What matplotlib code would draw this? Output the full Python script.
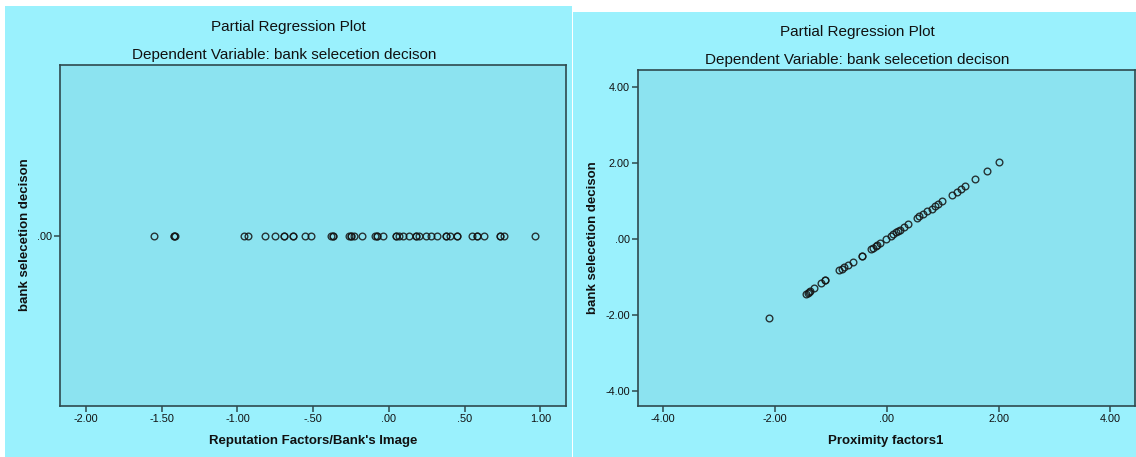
import matplotlib
matplotlib.use("Agg")
import matplotlib.pyplot as plt
from matplotlib.patches import Rectangle

# ---------------- data ----------------
title_text = "Partial Regression Plot"
subtitle_text = "Dependent Variable: bank selecetion decison"
ylabel_text = "bank selecetion decison"

left_xlabel = "Reputation Factors/Bank's Image"
left_x = [-1.55, -1.418, -1.418, -1.41, -0.954, -0.929, -0.819, -0.755, -0.691, -0.691,
          -0.630, -0.630, -0.557, -0.513, -0.381, -0.366, -0.366, -0.266, -0.250, -0.250,
          -0.233, -0.176, -0.091, -0.075, -0.075, -0.039, 0.047, 0.047, 0.064, 0.093,
          0.133, 0.179, 0.179, 0.196, 0.243, 0.280, 0.318, 0.375, 0.375, 0.404,
          0.450, 0.450, 0.547, 0.582, 0.582, 0.626, 0.736, 0.736, 0.758, 0.968]
left_y = [0.0] * len(left_x)
left_xticks = [-2.0, -1.5, -1.0, -0.5, 0.0, 0.5, 1.0]
left_xticklabels = ["-2.00", "-1.50", "-1.00", "-.50", ".00", ".50", "1.00"]
left_yticks = [0.0]
left_yticklabels = [".00"]

right_xlabel = "Proximity factors1"
right_x = [-2.10, -1.446, -1.417, -1.387, -1.369, -1.310, -1.178, -1.101, -1.101, -0.851,
           -0.802, -0.761, -0.702, -0.613, -0.452, -0.452, -0.279, -0.238, -0.195, -0.166,
           -0.130, -0.011, 0.073, 0.120, 0.163, 0.198, 0.240, 0.316, 0.388, 0.549,
           0.584, 0.656, 0.727, 0.806, 0.865, 0.913, 0.990, 1.164, 1.253, 1.330,
           1.396, 1.580, 1.789, 2.004]
right_y = [-2.08, -1.441, -1.422, -1.388, -1.362, -1.290, -1.158, -1.090, -1.090, -0.826,
           -0.781, -0.736, -0.694, -0.596, -0.438, -0.438, -0.261, -0.235, -0.193, -0.148,
           -0.103, 0.003, 0.090, 0.135, 0.177, 0.203, 0.240, 0.319, 0.406, 0.557,
           0.599, 0.670, 0.749, 0.802, 0.863, 0.916, 1.005, 1.172, 1.243, 1.330,
           1.409, 1.594, 1.805, 2.024]
right_xticks = [-4.0, -2.0, 0.0, 2.0, 4.0]
right_xticklabels = ["-4.00", "-2.00", ".00", "2.00", "4.00"]
right_yticks = [-4.0, -2.0, 0.0, 2.0, 4.0]
right_yticklabels = ["-4.00", "-2.00", ".00", "2.00", "4.00"]

# ---------------- styling ----------------
W, H = 1136, 457
OUTER = "#9AF1FD"
INNER = "#8CE3F0"
FRAME = "#2E4A4E"
FONT = "Liberation Sans"
TICK_FS = 7.8

fig = plt.figure(figsize=(W / 100, H / 100), dpi=100, facecolor="white")


def fx(px):
    return px / W


def fy(py):
    return 1 - py / H


def panel(x0, y0, x1, y1):
    fig.patches.append(Rectangle((fx(x0), fy(y1)), fx(x1) - fx(x0), fy(y0) - fy(y1),
                                 transform=fig.transFigure, facecolor=OUTER,
                                 edgecolor="none", zorder=-10))


def make_axes(x0, y0, x1, y1):
    ax = fig.add_axes([fx(x0), fy(y1), fx(x1) - fx(x0), fy(y0) - fy(y1)])
    ax.set_zorder(5)
    ax.set_facecolor(INNER)
    for s in ax.spines.values():
        s.set_color(FRAME)
        s.set_linewidth(1.2)
    ax.tick_params(direction="out", length=4.5, width=1.1, color=FRAME,
                   labelsize=TICK_FS, pad=1.5, labelcolor="#111111")
    return ax


def style_ticks(ax):
    for lab in ax.get_xticklabels() + ax.get_yticklabels():
        lab.set_family(FONT)
        lab.set_fontsize(TICK_FS)


marker_kw = dict(marker="o", linestyle="none", markersize=4.8, markerfacecolor="none",
                 markeredgecolor="#151515", markeredgewidth=1.0, alpha=0.85)

# ---- left panel ----
panel(5, 6, 572, 457)
axL = make_axes(60, 65, 566, 406)
axL.plot(left_x, left_y, **marker_kw)
axL.set_xlim(-2.172, 1.17)
axL.set_ylim(-1, 1)
axL.set_xticks(left_xticks)
axL.set_xticklabels(left_xticklabels)
axL.set_yticks(left_yticks)
axL.set_yticklabels(left_yticklabels)
style_ticks(axL)

fig.text(fx(288), fy(27), title_text, ha="center", va="center", fontsize=11,
         family=FONT, color="#111111", zorder=6)
fig.text(fx(284), fy(55), subtitle_text, ha="center", va="center", fontsize=11,
         family=FONT, color="#111111", zorder=6)
fig.text(fx(313), fy(441), left_xlabel, ha="center", va="center", fontsize=9.5,
         family=FONT, fontweight="bold", color="#111111", zorder=6)
fig.text(fx(25), fy(235), ylabel_text, ha="center", va="center", fontsize=9.5,
         family=FONT, fontweight="bold", rotation=90, color="#111111", zorder=6)

# ---- right panel ----
panel(573, 12, 1136, 457)
axR = make_axes(638, 70, 1135, 406)
axR.plot(right_x, right_y, **marker_kw)
axR.set_xlim(-4.45, 4.44)
axR.set_ylim(-4.40, 4.46)
axR.set_xticks(right_xticks)
axR.set_xticklabels(right_xticklabels)
axR.set_yticks(right_yticks)
axR.set_yticklabels(right_yticklabels)
style_ticks(axR)

fig.text(fx(857), fy(32), title_text, ha="center", va="center", fontsize=11,
         family=FONT, color="#111111", zorder=6)
fig.text(fx(857), fy(60), subtitle_text, ha="center", va="center", fontsize=11,
         family=FONT, color="#111111", zorder=6)
fig.text(fx(886), fy(441), right_xlabel, ha="center", va="center", fontsize=9.5,
         family=FONT, fontweight="bold", color="#111111", zorder=6)
fig.text(fx(593), fy(238), ylabel_text, ha="center", va="center", fontsize=9.5,
         family=FONT, fontweight="bold", rotation=90, color="#111111", zorder=6)

fig.savefig("out.png", dpi=100, facecolor="white")
